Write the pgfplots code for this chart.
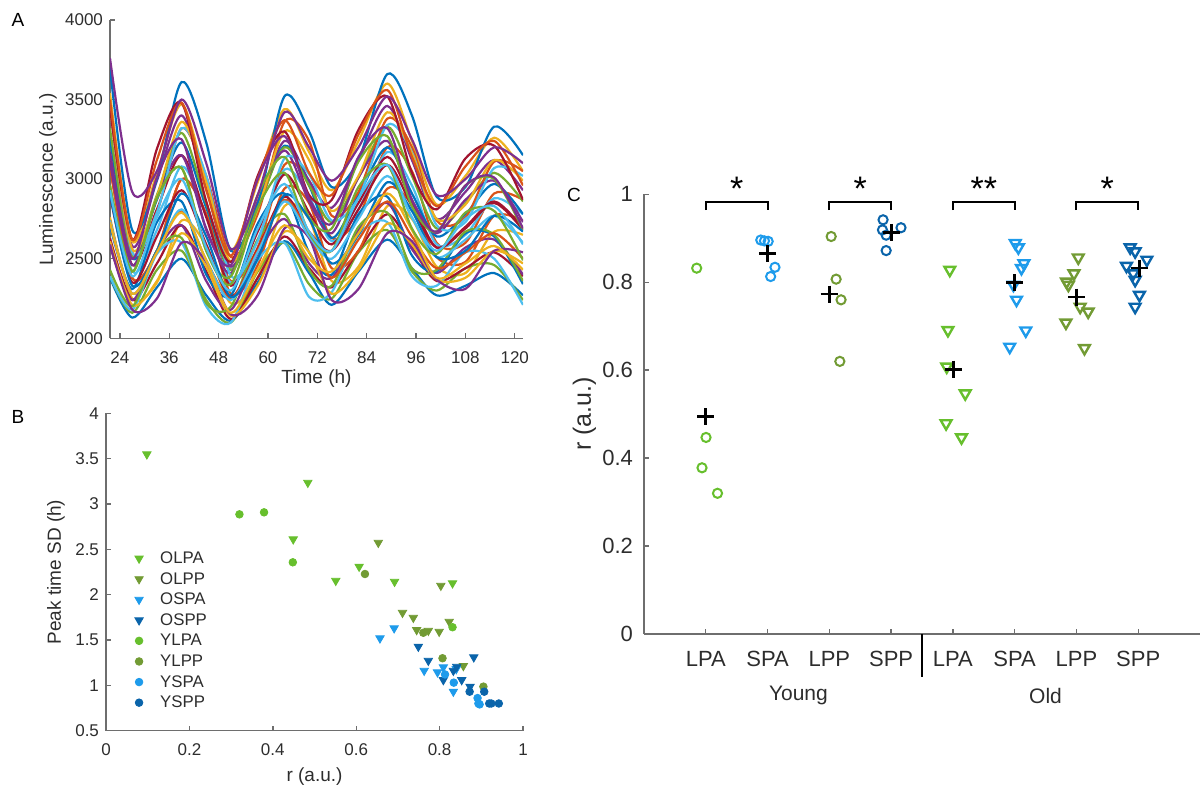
\documentclass[border=0pt]{standalone}
\usepackage{fontspec}
\setmainfont{Liberation Sans}
\usepackage{pgfplots}
\pgfplotsset{compat=1.18}

% MATLAB default line colours
\definecolor{mc1}{RGB}{0,114,189}
\definecolor{mc2}{RGB}{217,83,25}
\definecolor{mc3}{RGB}{237,177,32}
\definecolor{mc4}{RGB}{126,47,142}
\definecolor{mc5}{RGB}{119,172,48}
\definecolor{mc6}{RGB}{77,190,238}
\definecolor{mc7}{RGB}{162,20,47}
% group colours
\definecolor{lgreen}{RGB}{103,191,45}
\definecolor{ogreen}{RGB}{114,155,52}
\definecolor{lblue}{RGB}{30,155,235}
\definecolor{dblue}{RGB}{10,100,170}
\definecolor{axgray}{RGB}{110,110,110}
\definecolor{txt}{RGB}{45,45,45}

\newcommand{\fA}{\fontsize{8.5}{10}\selectfont}
\newcommand{\fL}{\fontsize{9.5}{11}\selectfont}
\newcommand{\fC}{\fontsize{11}{13}\selectfont}

\pgfplotsset{
  mstyle/.style={
    scale only axis, anchor=south west,
    axis x line*=bottom, axis y line*=left,
    axis line style={-, axgray, line width=0.7pt},
    every tick/.style={axgray, line width=0.7pt},
    tick align=inside,
    major tick length=2.5pt,
    tick label style={text=txt},
    label style={text=txt},
    /pgf/number format/assume math mode=true,
    /pgf/number format/1000 sep={},
  },
  tr/.style={smooth, no markers, line width=1.1pt},
}

\begin{document}
\begin{tikzpicture}
\useasboundingbox (0,0) rectangle (600.5pt,393.5pt);

% ---------------- A ----------------
\begin{axis}[mstyle,
  at={(55pt,224.35pt)}, width=206.5pt, height=159.15pt,
  xmin=21.6, xmax=122, ymin=2000, ymax=4000,
  xtick={24,36,48,60,72,84,96,108,120},
  ytick={2000,2500,3000,3500,4000},
  tick label style={font=\fA},
  xticklabel style={yshift=-3pt},
  xlabel={Time (h)}, ylabel={Luminescence (a.u.)},
  label style={font=\fL},
  xlabel style={at={(axis description cs:0.5,-0.128)}, anchor=center},
  ylabel style={at={(axis description cs:-0.150,0.5)}, anchor=center},
]
\addplot[tr,mc1] coordinates {(21.6,2380)(27,2130)(33,2320)(39,2500)(45,2270)(51,2110)(57.5,2350)(64,2610)(70,2410)(75.5,2210)(82,2420)(89,2620)(95,2440)(101,2270)(108,2330)(115,2410)(122,2270)};
\addplot[tr,mc2] coordinates {(21.6,3080)(27,2380)(33,2550)(39,3000)(45,2780)(51,2360)(57.5,2570)(64,3090)(70,2990)(75.5,2630)(82,2760)(89,3200)(95,3050)(101,2600)(108,2600)(115,2910)(122,2870)};
\addplot[tr,mc3] coordinates {(21.6,2760)(27,2250)(33,2350)(39,2740)(45,2580)(51,2220)(57.5,2380)(64,2830)(70,2750)(75.5,2360)(82,2450)(89,2830)(95,2750)(101,2450)(108,2410)(115,2670)(122,2650)};
\addplot[tr,mc4] coordinates {(21.6,3460)(27,2580)(33,2990)(39,3400)(45,2940)(51,2450)(57.5,2830)(64,3240)(70,2990)(75.5,2820)(82,3120)(89,3460)(95,3120)(101,2750)(108,2920)(115,3120)(122,2930)};
\addplot[tr,mc5] coordinates {(21.6,2390)(27,2160)(33,2430)(39,2550)(45,2240)(51,2100)(57.5,2420)(64,2600)(70,2340)(75.5,2250)(82,2540)(89,2680)(95,2420)(101,2300)(108,2440)(115,2460)(122,2240)};
\addplot[tr,mc6] coordinates {(21.6,3120)(27,2420)(33,2680)(39,3080)(45,2770)(51,2350)(57.5,2620)(64,3060)(70,2890)(75.5,2610)(82,2810)(89,3170)(95,2960)(101,2590)(108,2650)(115,2880)(122,2780)};
\addplot[tr,mc7] coordinates {(21.6,2630)(27,2240)(33,2470)(39,2710)(45,2420)(51,2120)(57.5,2380)(64,2640)(70,2440)(75.5,2320)(82,2550)(89,2780)(95,2570)(101,2360)(108,2440)(115,2540)(122,2390)};
\addplot[tr,mc1] coordinates {(21.6,3260)(27,2500)(33,2870)(39,3230)(45,2820)(51,2430)(57.5,2810)(64,3210)(70,2960)(75.5,2630)(82,2900)(89,3200)(95,2910)(101,2640)(108,2780)(115,2970)(122,2780)};
\addplot[tr,mc2] coordinates {(21.6,3080)(27,2380)(33,2550)(39,3000)(45,2780)(51,2280)(57.5,2460)(64,2940)(70,2850)(75.5,2440)(82,2550)(89,2940)(95,2840)(101,2510)(108,2480)(115,2770)(122,2740)};
\addplot[tr,mc3] coordinates {(21.6,3540)(27,2610)(33,3040)(39,3470)(45,2990)(51,2550)(57.5,2980)(64,3440)(70,3170)(75.5,2930)(82,3240)(89,3600)(95,3240)(101,2840)(108,3020)(115,3260)(122,3050)};
\addplot[tr,mc4] coordinates {(21.6,2580)(27,2240)(33,2550)(39,2710)(45,2360)(51,2180)(57.5,2530)(64,2750)(70,2470)(75.5,2380)(82,2680)(89,2850)(95,2560)(101,2410)(108,2570)(115,2620)(122,2400)};
\addplot[tr,mc5] coordinates {(21.6,3320)(27,2520)(33,2900)(39,3290)(45,2850)(51,2430)(57.5,2810)(64,3200)(70,2960)(75.5,2730)(82,3010)(89,3330)(95,3020)(101,2690)(108,2850)(115,3040)(122,2860)};
\addplot[tr,mc6] coordinates {(21.6,2390)(27,2180)(33,2530)(39,2600)(45,2200)(51,2100)(57.5,2490)(64,2600)(70,2260)(75.5,2290)(82,2650)(89,2730)(95,2390)(101,2330)(108,2540)(115,2500)(122,2210)};
\addplot[tr,mc7] coordinates {(21.6,3160)(27,2460)(33,2810)(39,3150)(45,2760)(51,2330)(57.5,2670)(64,3030)(70,2790)(75.5,2590)(82,2850)(89,3140)(95,2860)(101,2570)(108,2690)(115,2850)(122,2680)};
\addplot[tr,mc1] coordinates {(21.6,2710)(27,2310)(33,2730)(39,2860)(45,2400)(51,2270)(57.5,2720)(64,2910)(70,2540)(75.5,2400)(82,2780)(89,2890)(95,2520)(101,2420)(108,2660)(115,2640)(122,2340)};
\addplot[tr,mc2] coordinates {(21.6,3460)(27,2540)(33,2790)(39,3320)(45,3020)(51,2510)(57.5,2780)(64,3360)(70,3240)(75.5,2770)(82,2920)(89,3380)(95,3200)(101,2740)(108,2760)(115,3110)(122,3050)};
\addplot[tr,mc3] coordinates {(21.6,2610)(27,2210)(33,2360)(39,2660)(45,2450)(51,2140)(57.5,2330)(64,2670)(70,2540)(75.5,2280)(82,2430)(89,2720)(95,2590)(101,2370)(108,2380)(115,2550)(122,2470)};
\addplot[tr,mc4] coordinates {(21.6,3110)(27,2460)(33,2880)(39,3150)(45,2690)(51,2410)(57.5,2860)(64,3180)(70,2860)(75.5,2660)(82,3010)(89,3240)(95,2870)(101,2660)(108,2870)(115,2990)(122,2730)};
\addplot[tr,mc5] coordinates {(21.6,2430)(27,2200)(33,2550)(39,2630)(45,2220)(51,2200)(57.5,2620)(64,2780)(70,2430)(75.5,2330)(82,2700)(89,2790)(95,2440)(101,2430)(108,2670)(115,2650)(122,2360)};
\addplot[tr,mc6] coordinates {(21.6,3460)(27,2540)(33,2790)(39,3320)(45,3020)(51,2390)(57.5,2610)(64,3130)(70,3030)(75.5,2740)(82,2880)(89,3340)(95,3170)(101,2710)(108,2730)(115,3070)(122,3020)};
\addplot[tr,mc7] coordinates {(21.6,2900)(27,2350)(33,2640)(39,2930)(45,2590)(51,2260)(57.5,2560)(64,2890)(70,2670)(75.5,2550)(82,2810)(89,3090)(95,2830)(101,2570)(108,2700)(115,2860)(122,2690)};
\addplot[tr,mc1] coordinates {(21.6,3700)(27,2680)(33,3000)(39,3610)(45,3230)(51,2550)(57.5,2840)(64,3520)(70,3300)(75.5,2950)(82,3120)(89,3660)(95,3400)(101,2890)(108,2950)(115,3330)(122,3150)};
\addplot[tr,mc2] coordinates {(21.6,2740)(27,2280)(33,2540)(39,2800)(45,2490)(51,2250)(57.5,2550)(64,2870)(70,2650)(75.5,2380)(82,2620)(89,2860)(95,2640)(101,2440)(108,2540)(115,2660)(122,2500)};
\addplot[tr,mc3] coordinates {(21.6,3460)(27,2560)(33,2890)(39,3360)(45,2980)(51,2480)(57.5,2810)(64,3300)(70,3120)(75.5,2800)(82,3020)(89,3420)(95,3160)(101,2750)(108,2840)(115,3120)(122,2990)};
\addplot[tr,mc4] coordinates {(21.6,2590)(27,2180)(33,2250)(39,2600)(45,2480)(51,2150)(57.5,2270)(64,2690)(70,2630)(75.5,2240)(82,2310)(89,2660)(95,2610)(101,2370)(108,2310)(115,2550)(122,2540)};
\addplot[tr,mc5] coordinates {(21.6,2960)(27,2420)(33,2880)(39,3070)(45,2550)(51,2390)(57.5,2900)(64,3140)(70,2760)(75.5,2690)(82,3110)(89,3270)(95,2830)(101,2670)(108,2960)(115,3000)(122,2680)};
\addplot[tr,mc6] coordinates {(21.6,2740)(27,2280)(33,2540)(39,2810)(45,2490)(51,2240)(57.5,2540)(64,2860)(70,2640)(75.5,2500)(82,2750)(89,3020)(95,2760)(101,2510)(108,2620)(115,2770)(122,2600)};
\addplot[tr,mc7] coordinates {(21.6,3450)(27,2620)(33,3190)(39,3480)(45,2860)(51,2480)(57.5,3020)(64,3300)(70,2900)(75.5,2870)(82,3310)(89,3520)(95,3040)(101,2810)(108,3130)(115,3210)(122,2870)};
\addplot[tr,mc1] coordinates {(21.6,2910)(27,2330)(33,2550)(39,2910)(45,2640)(51,2260)(57.5,2500)(64,2900)(70,2750)(75.5,2470)(82,2650)(89,2980)(95,2800)(101,2510)(108,2550)(115,2770)(122,2670)};
\addplot[tr,mc2] coordinates {(21.6,3500)(27,2620)(33,3120)(39,3480)(45,2930)(51,2520)(57.5,3000)(64,3370)(70,3040)(75.5,2900)(82,3280)(89,3560)(95,3140)(101,2830)(108,3080)(115,3240)(122,2960)};
\addplot[tr,mc3] coordinates {(21.6,2730)(27,2280)(33,2540)(39,2790)(45,2490)(51,2160)(57.5,2430)(64,2710)(70,2500)(75.5,2420)(82,2660)(89,2910)(95,2680)(101,2380)(108,2470)(115,2580)(122,2430)};
\addplot[tr,mc4] coordinates {(21.6,3170)(27,2500)(33,3010)(39,3250)(45,2680)(51,2460)(57.5,3000)(64,3270)(70,2880)(75.5,2720)(82,3140)(89,3320)(95,2870)(101,2670)(108,2960)(115,3010)(122,2690)};
\addplot[tr,mc5] coordinates {(21.6,2960)(27,2420)(33,2880)(39,3070)(45,2550)(51,2340)(57.5,2820)(64,3040)(70,2660)(75.5,2550)(82,2950)(89,3090)(95,2690)(101,2530)(108,2790)(115,2800)(122,2490)};
\addplot[tr,mc6] coordinates {(21.6,2930)(27,2390)(33,2760)(39,3000)(45,2570)(51,2300)(57.5,2690)(64,2970)(70,2670)(75.5,2550)(82,2880)(89,3090)(95,2760)(101,2550)(108,2750)(115,2830)(122,2590)};
\addplot[tr,mc4] coordinates {(21.6,3760)(27,2920)(33,3050)(39,3500)(45,3100)(51,2560)(57.5,2900)(64,3420)(70,3200)(75.5,2990)(82,3200)(89,3520)(95,3250)(101,2900)(108,3000)(115,3200)(122,3100)};
\end{axis}

% ---------------- B ----------------
\begin{axis}[mstyle,
  at={(53pt,28.15pt)}, width=208.5pt, height=158.7pt,
  xmin=0, xmax=1, ymin=0.5, ymax=4,
  xtick={0,0.2,0.4,0.6,0.8,1},
  ytick={0.5,1,1.5,2,2.5,3,3.5,4},
  tick label style={font=\fA},
  xticklabel style={yshift=-3pt},
  xlabel={r (a.u.)}, ylabel={Peak time SD (h)},
  label style={font=\fL},
  xlabel style={at={(axis description cs:0.5,-0.143)}, anchor=center},
  ylabel style={at={(axis description cs:-0.12,0.5)}, anchor=center},
  legend cell align=left,
  legend style={draw=none, fill=none, font=\fontsize{8.4}{10}\selectfont, text=txt,
    at={(0.054,0.588)}, anchor=north west, row sep=0.3pt,
    /tikz/every odd column/.append style={column sep=7.5pt},
    nodes={inner sep=1pt, text height=6.5pt, text depth=1.5pt}},
]
\addplot[only marks, lgreen, mark=triangle*, mark size=2.4pt, mark options={rotate=180}]
  coordinates {(0.098,3.548)(0.484,3.235)(0.449,2.611)(0.551,2.154)(0.607,2.309)(0.692,2.143)(0.831,2.126)};
\addlegendentry{OLPA}
\addplot[only marks, ogreen, mark=triangle*, mark size=2.4pt, mark options={rotate=180}]
  coordinates {(0.653,2.573)(0.711,1.801)(0.737,1.746)(0.745,1.611)(0.773,1.603)(0.799,1.592)(0.803,2.099)(0.823,1.702)(0.857,1.214)};
\addlegendentry{OLPP}
\addplot[only marks, lblue, mark=triangle*, mark size=2.4pt, mark options={rotate=180}]
  coordinates {(0.657,1.519)(0.691,1.630)(0.763,1.162)(0.795,1.144)(0.809,1.200)(0.833,0.931)(0.840,1.180)};
\addlegendentry{OSPA}
\addplot[only marks, dblue, mark=triangle*, mark size=2.4pt, mark options={rotate=180}]
  coordinates {(0.749,1.427)(0.773,1.272)(0.882,1.310)(0.841,1.206)(0.833,1.162)(0.809,1.059)(0.853,1.059)(0.873,0.986)};
\addlegendentry{OSPP}
\addplot[only marks, lgreen, mark=*, mark size=1.9pt]
  coordinates {(0.320,2.886)(0.379,2.908)(0.448,2.357)(0.831,1.641)};
\addlegendentry{YLPA}
\addplot[only marks, ogreen, mark=*, mark size=1.9pt]
  coordinates {(0.621,2.228)(0.761,1.580)(0.807,1.299)(0.905,0.986)};
\addlegendentry{YLPP}
\addplot[only marks, lblue, mark=*, mark size=1.9pt]
  coordinates {(0.813,1.12)(0.834,1.03)(0.891,0.86)(0.893,0.80)(0.896,0.79)};
\addlegendentry{YSPA}
\addplot[only marks, dblue, mark=*, mark size=1.9pt]
  coordinates {(0.872,0.93)(0.907,0.93)(0.919,0.80)(0.924,0.80)(0.942,0.80)};
\addlegendentry{YSPP}
\end{axis}

% ---------------- C ----------------
\begin{axis}[mstyle,
  at={(322pt,76.5pt)}, width=278pt, height=219.85pt,
  xmin=0, xmax=9, ymin=0, ymax=1,
  xtick={1,2,3,4,5,6,7,8},
  xticklabels={LPA,SPA,LPP,SPP,LPA,SPA,LPP,SPP},
  ytick={0,0.2,0.4,0.6,0.8,1},
  tick label style={font=\fC},
  xticklabel style={yshift=-5pt},
  yticklabel style={xshift=-2pt},
  ylabel={r (a.u.)},
  label style={font=\fontsize{12.5}{14}\selectfont},
  ylabel style={at={(axis description cs:-0.107,0.5)}, anchor=center},
  clip=false,
]
\addplot[only marks, lgreen, mark=o, mark size=2.3pt, line width=1pt]
  coordinates {(0.853,0.832)(1.004,0.447)(0.939,0.378)(1.19,0.320)};
\addplot[only marks, lblue, mark=o, mark size=2.3pt, line width=1pt]
  coordinates {(1.89,0.896)(1.95,0.894)(2.01,0.893)(2.12,0.834)(2.05,0.813)};
\addplot[only marks, ogreen, mark=o, mark size=2.3pt, line width=1pt]
  coordinates {(3.03,0.904)(3.11,0.807)(3.19,0.760)(3.17,0.620)};
\addplot[only marks, dblue, mark=o, mark size=2.3pt, line width=1pt]
  coordinates {(3.87,0.942)(3.86,0.919)(3.92,0.907)(4.16,0.924)(3.92,0.872)};
\addplot[only marks, lgreen, mark=triangle, mark size=3.1pt, line width=1.2pt, mark options={rotate=180}]
  coordinates {(4.95,0.828)(4.92,0.691)(4.90,0.608)(5.20,0.547)(4.89,0.479)(5.14,0.447)};
\addplot[only marks, lblue, mark=triangle, mark size=3.1pt, line width=1.2pt, mark options={rotate=180}]
  coordinates {(6.01,0.889)(6.06,0.879)(6.15,0.843)(6.11,0.832)(5.98,0.794)(6.03,0.760)(6.18,0.690)(5.92,0.653)};
\addplot[only marks, ogreen, mark=triangle, mark size=3.1pt, line width=1.2pt, mark options={rotate=180}]
  coordinates {(7.03,0.856)(6.96,0.820)(6.84,0.801)(6.87,0.794)(7.06,0.744)(7.19,0.733)(6.83,0.708)(7.13,0.650)};
\addplot[only marks, dblue, mark=triangle, mark size=3.1pt, line width=1.2pt, mark options={rotate=180}]
  coordinates {(7.87,0.879)(7.95,0.870)(8.14,0.851)(7.81,0.837)(7.92,0.820)(7.95,0.805)(8.02,0.771)(7.95,0.744)};
% group means
\addplot[only marks, black, mark=+, mark size=4.3pt, line width=1.3pt]
  coordinates {(1,0.494)(2,0.865)(3,0.773)(4.01,0.913)(5.01,0.602)(6,0.799)(7,0.766)(8.02,0.832)};

% significance brackets
\draw[black, line width=1pt] (axis cs:1,0.964) -- (axis cs:1,0.983) -- (axis cs:2,0.983) -- (axis cs:2,0.964);
\draw[black, line width=1pt] (axis cs:3,0.964) -- (axis cs:3,0.983) -- (axis cs:4,0.983) -- (axis cs:4,0.964);
\draw[black, line width=1pt] (axis cs:5,0.964) -- (axis cs:5,0.983) -- (axis cs:6,0.983) -- (axis cs:6,0.964);
\draw[black, line width=1pt] (axis cs:7,0.964) -- (axis cs:7,0.983) -- (axis cs:8,0.983) -- (axis cs:8,0.964);
\node[font=\fontsize{17}{17}\selectfont, anchor=base] at (axis cs:1.5,0.986) {*};
\node[font=\fontsize{17}{17}\selectfont, anchor=base] at (axis cs:3.5,0.986) {*};
\node[font=\fontsize{17}{17}\selectfont, anchor=base] at (axis cs:5.5,0.986) {**};
\node[font=\fontsize{17}{17}\selectfont, anchor=base] at (axis cs:7.5,0.986) {*};

% group separator and labels
\draw[black, line width=0.6pt] (axis cs:4.5,0) -- (axis cs:4.5,-0.097);
\node[font=\fontsize{10.5}{12}\selectfont, text=txt] at (axis cs:2.5,-0.14) {Young};
\node[font=\fontsize{10.5}{12}\selectfont, text=txt] at (axis cs:6.5,-0.14) {Old};
\end{axis}

% panel letters
\node[font=\fontsize{9.5}{11}\selectfont] at (9pt,383.5pt) {A};
\node[font=\fontsize{9.5}{11}\selectfont] at (9pt,185pt) {B};
\node[font=\fontsize{9.5}{11}\selectfont] at (287pt,296pt) {C};
\end{tikzpicture}
\end{document}
